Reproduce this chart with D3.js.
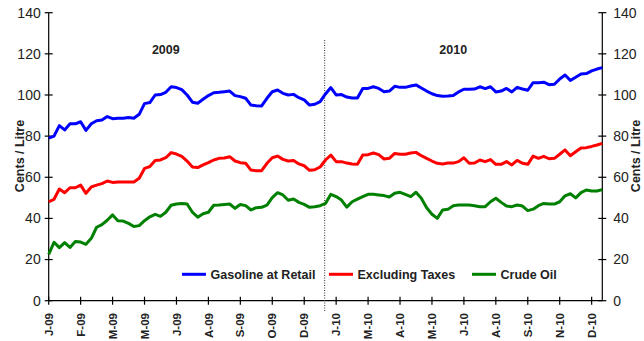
<!DOCTYPE html>
<html>
<head>
<meta charset="utf-8">
<script src="https://cdn.jsdelivr.net/npm/d3@7"></script>
<style>
  body { margin: 0; background: #fff; }
  svg { display: block; font-family: Arial, "Liberation Sans", sans-serif; }
</style>
</head>
<body>
<script>
// weekly prices, cents / litre, Jan 2009 - Jan 2011
const gasoline = [
  79.0, 80.0, 85.1, 83.0, 86.0, 86.0, 87.0, 82.8, 86.0, 87.5, 87.8, 89.5, 88.5, 88.7, 88.7, 89.0, 88.7, 90.6, 95.8, 96.3, 100.0, 100.2, 101.3, 104.0, 103.6, 102.6,
  100.0, 96.5, 96.0, 97.9, 99.7, 101.1, 101.3, 101.6, 101.9, 99.7, 99.2, 98.4, 95.1, 94.8, 94.7, 98.4, 101.6, 102.4, 100.8, 100.0, 100.3, 98.7, 97.6, 95.1, 95.5, 96.8,
  100.5, 103.6, 100.0, 100.2, 99.0, 98.5, 98.5, 103.2, 103.2, 104.0, 103.2, 101.6, 101.9, 104.2, 103.7, 103.7, 104.4, 104.9, 103.4, 101.9, 100.6, 99.7, 99.4, 99.5, 99.8,
  101.5, 102.8, 102.8, 102.9, 104.0, 103.1, 104.0, 101.5, 101.9, 103.2, 101.5, 103.7, 102.9, 102.3, 106.0, 106.0, 106.2, 105.0, 105.2, 107.8, 109.7, 107.1, 108.6, 110.2, 110.4, 111.7, 112.6, 113.3
];
const exTaxes = [
  48.1, 49.3, 54.3, 52.5, 54.9, 54.9, 56.2, 52.2, 55.3, 56.2, 56.9, 58.2, 57.5, 57.7, 57.7, 57.7, 57.7, 59.5, 64.3, 65.2, 68.1, 68.4, 69.5, 72.0, 71.3, 70.2,
  67.9, 65.0, 64.7, 66.0, 67.1, 68.4, 69.2, 69.4, 70.0, 67.9, 67.1, 66.8, 63.5, 63.2, 63.2, 66.8, 69.5, 70.3, 68.7, 67.9, 68.2, 66.5, 65.6, 63.4, 63.7, 65.0,
  68.4, 70.8, 67.6, 67.6, 66.9, 66.5, 66.3, 70.8, 71.0, 71.8, 71.0, 68.9, 69.2, 71.6, 71.2, 71.2, 71.8, 72.1, 70.5, 69.2, 67.9, 66.8, 66.5, 66.9, 66.9,
  67.6, 69.5, 66.8, 66.9, 68.4, 67.6, 68.6, 66.3, 66.3, 67.6, 66.0, 68.2, 66.8, 66.3, 70.3, 69.2, 70.2, 69.0, 69.2, 71.2, 73.3, 70.5, 72.4, 74.2, 74.4, 75.0, 75.7, 76.5
];
const crude = [
  22.5, 28.4, 25.8, 28.2, 25.9, 28.8, 28.5, 27.4, 30.3, 35.7, 37.0, 39.1, 41.7, 38.9, 38.7, 37.6, 36.1, 36.5, 38.9, 40.8, 42.0, 41.0, 43.0, 46.4, 47.0, 47.3,
  47.0, 43.0, 40.6, 42.3, 43.0, 46.4, 46.5, 46.8, 47.0, 44.9, 46.8, 46.2, 44.1, 45.2, 45.4, 46.5, 50.1, 52.5, 51.4, 48.8, 49.4, 47.8, 46.8, 45.4, 45.7, 46.2,
  47.3, 51.7, 50.6, 48.9, 45.5, 48.1, 49.4, 50.6, 51.7, 51.7, 51.4, 51.1, 50.4, 52.2, 52.7, 51.7, 50.6, 52.7, 49.8, 45.2, 42.0, 40.0, 44.1, 44.4, 46.2,
  46.5, 46.5, 46.5, 46.2, 45.7, 45.7, 48.1, 49.8, 47.8, 46.0, 45.7, 46.5, 46.0, 43.8, 44.5, 46.2, 47.3, 47.0, 47.0, 48.1, 51.0, 52.0, 50.0, 52.5, 53.8, 53.3, 53.3, 54.0
];

// one label every 6 weeks
const tickLabels = ["J-09", "F-09", "M-09", "M-09", "J-09", "A-09", "S-09", "O-09", "D-09",
  "J-10", "M-10", "A-10", "M-10", "J-10", "A-10", "S-10", "N-10", "D-10"];
const tickStep = 6;
const yTicks = [0, 20, 40, 60, 80, 100, 120, 140];
const yearLabels = [{text: "2009", week: 22}, {text: "2010", week: 76}];
const yearBreak = 51.85;

const series = [
  {name: "Gasoline at Retail", values: gasoline, color: "#0000ff"},
  {name: "Excluding Taxes", values: exTaxes, color: "#ff0000"},
  {name: "Crude Oil", values: crude, color: "#008000"}
];

const width = 644, height = 341;
const plot = {left: 48.7, right: 602.3, top: 12.7, bottom: 300.7};

const svg = d3.select("body").append("svg").attr("width", width).attr("height", height);

const x = d3.scaleLinear().domain([0, gasoline.length - 1]).range([plot.left, plot.right]);
const y = d3.scaleLinear().domain([0, 140]).range([plot.bottom, plot.top]);

const txt = "#222";

// left + right value axes, ticks cross the axis line
function valueAxis(xPos, side) {
  let g = svg.append("g").attr("transform", "translate(" + xPos + ",0)");
  g.append("line").attr("y1", y(0)).attr("y2", y(140)).attr("stroke", "#000").attr("stroke-width", 1.2);
  yTicks.forEach(t => {
    g.append("line").attr("x1", -4).attr("x2", 4).attr("y1", y(t)).attr("y2", y(t))
      .attr("stroke", "#000").attr("stroke-width", 1.2);
    g.append("text").text(t)
      .attr("x", side == "left" ? -8 : 11)
      .attr("y", y(t)).attr("dy", "0.35em")
      .attr("text-anchor", side == "left" ? "end" : "start")
      .attr("font-size", "14px").attr("fill", txt);
  });
}
valueAxis(plot.left, "left");
valueAxis(plot.right, "right");

// axis titles
[24, 640].forEach(cx => {
  svg.append("text").text("Cents / Litre")
    .attr("transform", "translate(" + cx + "," + 156 + ") rotate(-90)")
    .attr("text-anchor", "middle")
    .attr("font-size", "12.5px").attr("font-weight", "bold").attr("fill", txt);
});

// category axis
svg.append("line").attr("x1", plot.left).attr("x2", plot.right).attr("y1", y(0)).attr("y2", y(0))
  .attr("stroke", "#000").attr("stroke-width", 1.2);
tickLabels.forEach((lab, i) => {
  let xp = x(i * tickStep);
  svg.append("line").attr("x1", xp).attr("x2", xp).attr("y1", y(0) - 4).attr("y2", y(0) + 4)
    .attr("stroke", "#000").attr("stroke-width", 1.2);
  svg.append("text").text(lab)
    .attr("transform", "translate(" + xp + "," + 313 + ") rotate(-90)")
    .attr("dy", "0.36em")
    .attr("text-anchor", "end")
    .attr("font-size", "11.5px").attr("font-weight", "bold").attr("fill", txt);
});

// dotted year divider
svg.append("line")
  .attr("x1", x(yearBreak)).attr("x2", x(yearBreak))
  .attr("y1", 40).attr("y2", 312)
  .attr("stroke", "#333").attr("stroke-width", 1).attr("stroke-dasharray", "1,1.5");

yearLabels.forEach(yl => {
  svg.append("text").text(yl.text)
    .attr("x", x(yl.week)).attr("y", 54.3)
    .attr("text-anchor", "middle")
    .attr("font-size", "12.5px").attr("font-weight", "bold").attr("fill", txt);
});

// the three price lines
let line = d3.line().x((d, i) => x(i)).y(d => y(d));
series.forEach(s => {
  svg.append("path").datum(s.values)
    .attr("d", line)
    .attr("fill", "none")
    .attr("stroke", s.color)
    .attr("stroke-width", 3)
    .attr("stroke-linejoin", "round");
});

// legend
const legendX = [182, 329, 472];
series.forEach((s, i) => {
  let g = svg.append("g").attr("transform", "translate(" + legendX[i] + "," + 274.3 + ")");
  g.append("line").attr("x1", 0).attr("x2", 24).attr("stroke", s.color).attr("stroke-width", 3);
  g.append("text").text(s.name).attr("x", 28.5).attr("y", 4.3)
    .attr("font-size", "12.5px").attr("font-weight", "bold").attr("fill", txt);
});
</script>
</body>
</html>
